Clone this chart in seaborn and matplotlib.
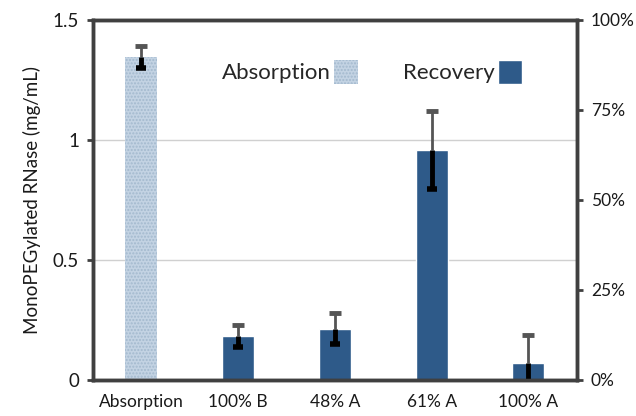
import numpy as np
import pandas as pd
import seaborn as sns
import matplotlib.pyplot as plt
from matplotlib.patches import Patch

# values
categories = ['Absorption', '100% B', '48% A', '61% A', '100% A']
groups = ['Absorption', 'Recovery', 'Recovery', 'Recovery', 'Recovery']
conc = [1.346, 0.183, 0.213, 0.958, 0.071]
err = [0.045, 0.045, 0.065, 0.162, 0.117]
pct_ticks = [0, 25, 50, 75, 100]

df = pd.DataFrame({'sample': categories, 'group': groups, 'conc': conc})

sns.set_theme(style='white')
plt.rcParams['font.family'] = ['Lato', 'DejaVu Sans']

fig = plt.figure(figsize=(6.36, 4.16), dpi=100)
ax = fig.add_axes([0.146, 0.087, 0.761, 0.865])

pal = {'Absorption': '#c3d3e3', 'Recovery': '#2e5a89'}
sns.barplot(data=df, x='sample', y='conc', hue='group', palette=pal,
            dodge=False, width=0.33, ax=ax, legend=False, saturation=1)

# light hatched fill for the absorption bar
for p in ax.patches:
    if np.isclose(p.get_height(), conc[0]):
        p.set_hatch('.....')
        p.set_edgecolor('#a3b9ce')
        p.set_linewidth(0)

x = np.arange(len(categories))
zeros = np.zeros(len(err))
top = np.array(conc) + np.array(err)
low = np.array(conc) - np.array(err)
# upper half grey with cap, lower half black
ax.errorbar(x, conc, yerr=[zeros, err], fmt='none', ecolor='#555555',
            elinewidth=2, capsize=0, zorder=4)
ax.scatter(x, top, marker='_', s=65, linewidths=3.5, color='#555555', zorder=4)
ax.errorbar(x, conc, yerr=[err, zeros], fmt='none', ecolor='black',
            elinewidth=3.5, capsize=0, zorder=5)
ax.scatter(x, low, marker='_', s=45, linewidths=4, color='black', zorder=5,
           clip_on=True)

ax.set_ylim(0, 1.5)
ax.set_xlim(-0.5, len(categories) - 0.5)
ax.set_yticks([0, 0.5, 1, 1.5])
ax.set_yticklabels(['0', '0.5', '1', '1.5'])
for yv in [0.5, 1.0]:
    ax.axhline(yv, color='#d0d0d0', lw=1, zorder=0)
ax.set_xlabel('')
ax.set_ylabel('MonoPEGylated RNase (mg/mL)', fontsize=13.5, color='#1a1a1a',
              labelpad=8)
ax.tick_params(axis='y', length=4, width=2, color='#404040', labelsize=13.5,
               labelcolor='#1a1a1a', left=True, pad=6)
ax.tick_params(axis='x', length=0, labelsize=12.5, labelcolor='#1a1a1a', pad=10)

ax2 = ax.twinx()
ax2.set_ylim(0, 100)
ax2.set_yticks(pct_ticks)
ax2.set_yticklabels([f'{v}%' for v in pct_ticks])
ax2.tick_params(axis='y', length=4, width=2, color='#404040', labelsize=12.5,
                labelcolor='#1a1a1a', right=True, pad=6)
ax2.grid(False)

for a in (ax, ax2):
    for s in a.spines.values():
        s.set_visible(True)
        s.set_linewidth(2.5)
        s.set_color('#404040')

# legend: text then swatch
handles = [Patch(facecolor=pal['Absorption'], hatch='.....', edgecolor='#a3b9ce', lw=0),
           Patch(facecolor=pal['Recovery'])]
ax.legend(handles, ['Absorption', 'Recovery'], ncol=2, frameon=False,
          markerfirst=False, fontsize=16, loc='upper left',
          bbox_to_anchor=(0.225, 0.945), handlelength=1.1, handleheight=1.3,
          handletextpad=0.15, columnspacing=2.0)

fig.savefig('out.png', dpi=100)
